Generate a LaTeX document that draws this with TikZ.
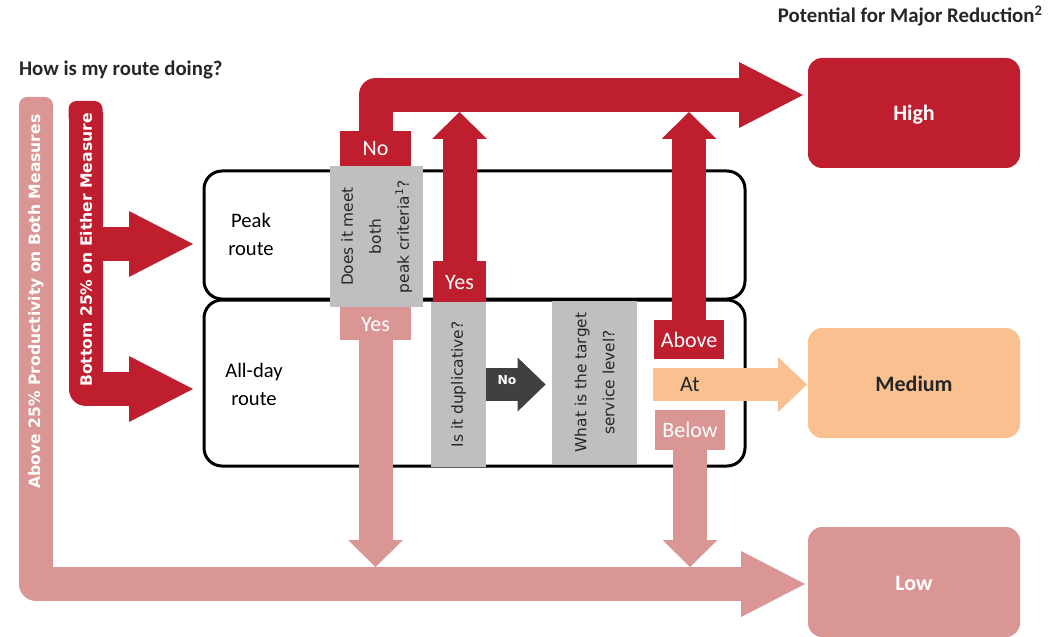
\documentclass[tikz,border=0pt]{standalone}
\usepackage{fontspec}
\setmainfont{Carlito}
\newfontfamily\verdfont{DejaVu Sans}
\usetikzlibrary{arrows.meta}
\definecolor{darkred}{HTML}{BF1E2E}
\definecolor{rosered}{HTML}{D99694}
\definecolor{peach}{HTML}{FAC090}
\definecolor{qgray}{HTML}{BFBFBF}
\definecolor{arrowgray}{HTML}{404040}
\definecolor{inktext}{HTML}{262626}
\tikzset{
	result/.style={rounded corners=7pt, minimum width=106pt, minimum height=55pt, inner sep=0pt, text height=8pt, text depth=0pt, font=\fontsize{11}{13}\selectfont\bfseries},
	routebox/.style={draw, line width=1.5pt, rounded corners=9pt, minimum width=270.5pt, inner sep=0pt},
	question/.style={fill=qgray, rotate=90, align=center, inner sep=0pt, text=inktext, font=\verdfont\fontsize{7.7}{14}\selectfont},
	answer/.style={inner sep=0pt, minimum width=35.5pt, text height=7.5pt, text depth=0pt, text=white, font=\fontsize{11}{13}\selectfont},
	sidetext/.style={rotate=90, inner sep=0pt, text=white, font=\verdfont\bfseries\fontsize{7.8}{9}\selectfont},
	band/.style={line width=17pt, line join=round},
	bighead/.style={band, -{Triangle[length=32pt, width=33pt, line width=0pt]}},
	smallhead/.style={band, -{Triangle[length=13.5pt, width=27.5pt, line width=0pt]}},
}
\begin{document}
\begin{tikzpicture}[x=0.5pt, y=-0.5pt]
			\useasboundingbox (0,0) rectangle (1058,636);
			%headings
			\node[anchor=base west, text=inktext, font=\fontsize{10.4}{12}\selectfont\bfseries] (title) at (12,76) {How is my route doing?};
			\node[anchor=base east, text=inktext, font=\fontsize{10.4}{12}\selectfont\bfseries] (potential) at (1050,23) {Potential for Major Reduction\textsuperscript{2}};
			
			%route boxes
			\node[routebox, minimum height=64pt] (peakbox) at (474.5,235) {};
			\node[routebox, minimum height=83pt] (alldaybox) at (474.5,383) {};
			\node[align=center, font=\fontsize{10.3}{14}\selectfont] (peaktxt) at (251,234) {Peak\\route};
			\node[align=center, font=\fontsize{10.3}{14}\selectfont] (alldaytxt) at (254,384) {All-day\\route};
			
			%questions
			\node[question, minimum width=70.5pt, minimum height=46.5pt] (q1) at (376.5,236.5) {Does it meet\\both\\peak criteria\textsuperscript{1}?};
			\node[question, minimum width=82.5pt, minimum height=27.5pt] (q2) at (458.5,384.5) {Is it duplicative?};
			\node[question, minimum width=81.5pt, minimum height=42.5pt] (q3) at (594.5,382.5) {What is the target\\service level?};
			
			%answers
			\node[answer, fill=darkred, minimum height=17.5pt] (no1) at (375.5,148.5) {No};
			\node[answer, fill=rosered, minimum height=16.5pt] (yes1) at (375.5,323.5) {Yes};
			\node[answer, fill=darkred, minimum width=26.5pt, minimum height=20.5pt] (yes2) at (459.5,281.5) {Yes};
			\node[answer, fill=darkred, minimum width=35pt, minimum height=19.5pt] (above) at (689,339.5) {Above};
			\node[answer, fill=rosered, minimum width=35pt, minimum height=20pt] (below) at (690,430) {Below};
			
			%results
			\node[result, fill=darkred, text=white] (high) at (914,113) {High};
			\node[result, fill=peach, text=inktext] (medium) at (914,383) {Medium};
			\node[result, fill=rosered, text=white] (low) at (914,582) {Low};
			
			\coordinate (hightip) at (803,95);
			\coordinate (bandlow) at (0,112);
			\coordinate (bandtop) at (0,567);
			\coordinate (lowtip) at (805,584);
			\coordinate (atstart) at (653,384.5);
			\coordinate (medtip) at (807,384.5);
			\coordinate (abovetop) at (36,108);
			\coordinate (bottomtop) at (85.5,112);
			\coordinate (peaktip) at (193,244);
			\coordinate (alltip) at (193,389);
			
			%left bars
			\fill[rosered, rounded corners=4pt] (19,97) rectangle (53,125);
			\draw[bighead, rosered] (abovetop) |- (lowtip);
			\fill[darkred, rounded corners=4pt] (68.5,101) rectangle (102.5,125);
			\draw[bighead, darkred] (bottomtop) |- (alltip);
			\draw[bighead, darkred] (bottomtop |- peaktip) -- (peaktip);
			\node[sidetext] (abovetxt) at (36,301.5) {Above 25\% Productivity on Both Measures};
			\node[sidetext] (bottomtxt) at (86,250) {Bottom 25\% on Either Measure};
			
			%top band and up arrows
			\draw[bighead, darkred] (no1.north) |- (hightip);
			\draw[smallhead, darkred] (yes2.north) -- (yes2.north |- bandlow);
			\draw[smallhead, darkred] (above.north) -- (above.north |- bandlow);
			
			%down arrows
			\draw[smallhead, rosered] (yes1.south) -- (yes1.south |- bandtop);
			\draw[smallhead, rosered] (below.south) -- (below.south |- bandtop);
			
			%no and at
			\draw[arrowgray, line width=16.5pt, -{Triangle[length=14pt, width=27pt, line width=0pt]}, shorten >=3pt] (q2.south) -- (q2.south -| q3.north);
			\node[text=white, font=\verdfont\bfseries\fontsize{6.2}{8}\selectfont] (nolbl) at (507,380) {No};
			\draw[peach, line width=16.5pt, -{Triangle[length=14.5pt, width=27.5pt, line width=0pt]}] (atstart) -- (medtip);
			\node[text=inktext, font=\fontsize{11}{13}\selectfont] (atlbl) at (690,385) {At};
		\end{tikzpicture}
\end{document}
